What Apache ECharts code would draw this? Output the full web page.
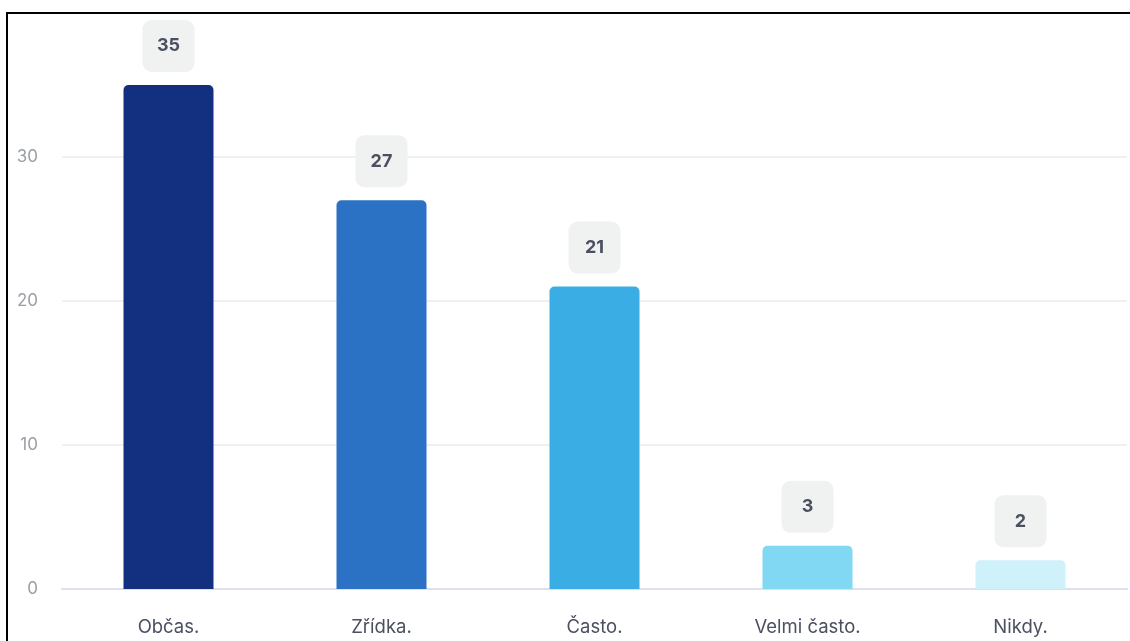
<!DOCTYPE html>
<html>
<head>
<meta charset="utf-8">
<script src="https://cdn.jsdelivr.net/npm/echarts@6/dist/echarts.min.js"></script>
<style>
  html, body { margin: 0; padding: 0; background: #fff; overflow: hidden; }
  #frame {
    position: absolute; left: 6px; top: 12px; z-index: 2;
    width: 1200px; height: 700px; pointer-events: none;
    border: 2px solid #000; box-sizing: border-box;
  }
  #chart { position: absolute; left: 0; top: 0; width: 1130px; height: 641px; z-index: 1; }
</style>
</head>
<body>
<div id="frame"></div>
<div id="chart"></div>
<script>
const categories = ['Občas.', 'Zřídka.', 'Často.', 'Velmi často.', 'Nikdy.'];
const values = [35, 27, 21, 3, 2];
const barColors = ['#12307f', '#2b72c4', '#3aade4', '#80d8f3', '#cff1fa'];

const chart = echarts.init(document.getElementById('chart'));

chart.setOption({
  animation: false,
  textStyle: { fontFamily: 'Inter' },
  grid: { left: 62, right: 3, top: 13, bottom: 52 },
  xAxis: {
    type: 'category',
    data: categories,
    axisLine: { lineStyle: { color: '#dde1ee', width: 2 } },
    axisTick: { show: false },
    axisLabel: { color: '#4b5060', fontSize: 18.5, margin: 29 }
  },
  yAxis: {
    type: 'value',
    min: 0,
    max: 40,
    interval: 10,
    axisLine: { show: false },
    axisTick: { show: false },
    axisLabel: { color: '#9a9ea6', fontSize: 17, margin: 24, showMaxLabel: false },
    splitLine: { lineStyle: { color: '#ebebeb', width: 1.5 } }
  },
  series: [{
    type: 'bar',
    barWidth: 90,
    data: values.map((v, i) => ({ value: v, itemStyle: { color: barColors[i] } })),
    itemStyle: { borderRadius: [5, 5, 0, 0] },
    label: {
      show: true,
      position: 'top',
      distance: 13,
      color: '#4b5060',
      fontSize: 18,
      fontWeight: 'bold',
      backgroundColor: '#f0f1f1',
      borderRadius: 9,
      width: 22,
      height: 22,
      padding: 15,
      align: 'center',
      lineHeight: 22
    }
  }]
});
</script>
</body>
</html>
